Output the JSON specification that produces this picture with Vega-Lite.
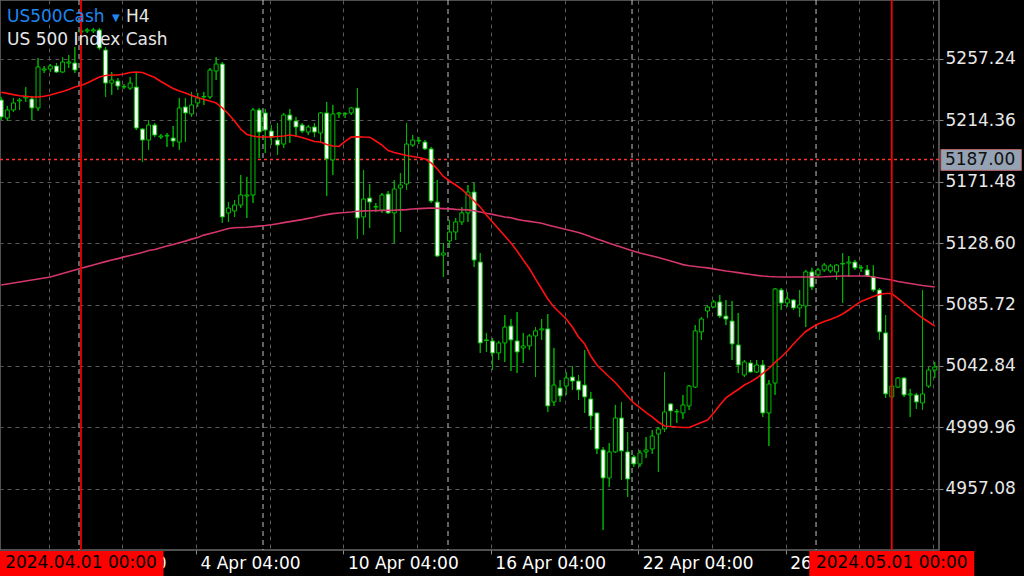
{
"$schema": "https://vega.github.io/schema/vega-lite/v6.json",
"width": 939,
"height": 550,
"autosize": {"type": "none"},
"padding": {"left": 0, "top": 0, "right": 85, "bottom": 26},
"background": "#000000",
"config": {
  "view": {"stroke": "#6a6a6a", "strokeWidth": 1.5, "fill": "#000000"},
  "axis": {"labelFont": "DejaVu Sans"},
  "text": {"font": "DejaVu Sans"}
},
"resolve": {"axis": {"x": "independent", "y": "independent"}},
"datasets": {
  "bars": [
{"i":-13,"o":5228.6,"h":5230.7,"l":5214.6,"c":5216.7,"fast":5234.0,"slow":5099.4},
{"i":-12,"o":5216.0,"h":5224.4,"l":5213.9,"c":5221.6,"fast":5233.2,"slow":5100.1},
{"i":-11,"o":5221.6,"h":5230.0,"l":5220.2,"c":5226.5,"fast":5232.3,"slow":5100.8},
{"i":-10,"o":5227.9,"h":5230.0,"l":5221.6,"c":5228.6,"fast":5231.5,"slow":5101.5},
{"i":-9,"o":5230.0,"h":5237.6,"l":5227.2,"c":5230.7,"fast":5231.2,"slow":5102.2},
{"i":-8,"o":5229.3,"h":5231.4,"l":5214.6,"c":5223.0,"fast":5230.7,"slow":5102.9},
{"i":-7,"o":5223.0,"h":5257.9,"l":5220.9,"c":5251.6,"fast":5230.7,"slow":5103.6},
{"i":-6,"o":5249.5,"h":5252.3,"l":5247.4,"c":5250.2,"fast":5231.2,"slow":5104.3},
{"i":-5,"o":5250.2,"h":5253.7,"l":5248.1,"c":5252.3,"fast":5232.0,"slow":5105.0},
{"i":-4,"o":5252.3,"h":5254.4,"l":5247.4,"c":5248.1,"fast":5233.3,"slow":5106.2},
{"i":-3,"o":5248.1,"h":5258.6,"l":5247.4,"c":5255.1,"fast":5234.5,"slow":5107.4},
{"i":-2,"o":5254.4,"h":5260.0,"l":5250.9,"c":5255.1,"fast":5235.9,"slow":5108.6},
{"i":-1,"o":5254.4,"h":5265.6,"l":5247.4,"c":5249.5,"fast":5237.6,"slow":5109.9},
{"i":0,"o":5276.1,"h":5278.1,"l":5274.0,"c":5276.8,"fast":5238.7,"slow":5111.1},
{"i":1,"o":5276.8,"h":5278.9,"l":5275.4,"c":5277.5,"fast":5240.4,"slow":5112.2},
{"i":2,"o":5276.8,"h":5278.9,"l":5275.4,"c":5277.5,"fast":5242.5,"slow":5113.3},
{"i":3,"o":5277.5,"h":5278.9,"l":5263.5,"c":5264.9,"fast":5244.6,"slow":5114.5},
{"i":4,"o":5263.5,"h":5265.6,"l":5230.7,"c":5240.4,"fast":5245.7,"slow":5115.7},
{"i":5,"o":5240.4,"h":5248.1,"l":5232.1,"c":5242.5,"fast":5246.0,"slow":5116.8},
{"i":6,"o":5241.8,"h":5243.9,"l":5235.6,"c":5238.3,"fast":5246.0,"slow":5117.8},
{"i":7,"o":5237.6,"h":5239.7,"l":5236.3,"c":5238.0,"fast":5246.7,"slow":5119.0},
{"i":8,"o":5236.9,"h":5244.6,"l":5235.6,"c":5240.4,"fast":5247.8,"slow":5120.0},
{"i":9,"o":5237.6,"h":5247.4,"l":5207.6,"c":5209.0,"fast":5248.1,"slow":5121.0},
{"i":10,"o":5208.3,"h":5209.0,"l":5185.3,"c":5200.6,"fast":5247.8,"slow":5122.1},
{"i":11,"o":5200.6,"h":5214.6,"l":5193.7,"c":5211.1,"fast":5246.0,"slow":5123.5},
{"i":12,"o":5211.1,"h":5212.5,"l":5202.7,"c":5204.1,"fast":5244.3,"slow":5124.2},
{"i":13,"o":5202.7,"h":5204.8,"l":5201.3,"c":5203.4,"fast":5241.5,"slow":5125.4},
{"i":14,"o":5203.4,"h":5205.5,"l":5195.8,"c":5203.8,"fast":5239.0,"slow":5126.6},
{"i":15,"o":5202.0,"h":5210.4,"l":5195.8,"c":5199.9,"fast":5236.6,"slow":5127.7},
{"i":16,"o":5199.2,"h":5230.0,"l":5193.7,"c":5223.0,"fast":5234.9,"slow":5128.9},
{"i":17,"o":5223.7,"h":5230.0,"l":5199.2,"c":5219.5,"fast":5233.5,"slow":5130.0},
{"i":18,"o":5218.8,"h":5234.2,"l":5216.7,"c":5225.1,"fast":5231.7,"slow":5131.4},
{"i":19,"o":5226.5,"h":5233.5,"l":5223.7,"c":5230.0,"fast":5230.3,"slow":5132.5},
{"i":20,"o":5230.7,"h":5234.2,"l":5225.1,"c":5231.0,"fast":5228.9,"slow":5134.2},
{"i":21,"o":5230.7,"h":5250.9,"l":5229.3,"c":5249.5,"fast":5227.9,"slow":5135.3},
{"i":22,"o":5248.8,"h":5258.6,"l":5242.5,"c":5253.7,"fast":5226.5,"slow":5136.4},
{"i":23,"o":5253.7,"h":5255.1,"l":5142.7,"c":5146.9,"fast":5223.0,"slow":5137.6},
{"i":24,"o":5149.7,"h":5157.3,"l":5143.4,"c":5153.1,"fast":5218.8,"slow":5138.8},
{"i":25,"o":5151.1,"h":5158.7,"l":5146.9,"c":5155.2,"fast":5213.9,"slow":5139.3},
{"i":26,"o":5155.2,"h":5176.2,"l":5153.1,"c":5162.2,"fast":5208.3,"slow":5139.5},
{"i":27,"o":5161.5,"h":5174.8,"l":5146.2,"c":5162.2,"fast":5204.5,"slow":5139.7},
{"i":28,"o":5162.2,"h":5223.0,"l":5156.6,"c":5221.6,"fast":5203.4,"slow":5140.1},
{"i":29,"o":5221.6,"h":5223.0,"l":5188.1,"c":5206.2,"fast":5202.7,"slow":5140.5},
{"i":30,"o":5219.5,"h":5222.3,"l":5191.6,"c":5207.6,"fast":5202.7,"slow":5140.9},
{"i":31,"o":5206.9,"h":5211.1,"l":5197.1,"c":5202.7,"fast":5202.7,"slow":5141.4},
{"i":32,"o":5200.6,"h":5212.5,"l":5190.2,"c":5197.1,"fast":5203.1,"slow":5142.2},
{"i":33,"o":5197.8,"h":5219.5,"l":5195.1,"c":5218.1,"fast":5203.4,"slow":5142.9},
{"i":34,"o":5218.1,"h":5222.3,"l":5198.5,"c":5214.6,"fast":5204.1,"slow":5143.6},
{"i":35,"o":5213.9,"h":5216.7,"l":5202.7,"c":5209.7,"fast":5203.4,"slow":5144.3},
{"i":36,"o":5211.1,"h":5212.5,"l":5205.5,"c":5206.9,"fast":5202.4,"slow":5145.0},
{"i":37,"o":5206.2,"h":5211.1,"l":5204.1,"c":5209.7,"fast":5201.0,"slow":5145.9},
{"i":38,"o":5209.7,"h":5212.5,"l":5202.7,"c":5206.2,"fast":5199.6,"slow":5146.7},
{"i":39,"o":5205.5,"h":5220.2,"l":5198.5,"c":5219.5,"fast":5199.2,"slow":5147.7},
{"i":40,"o":5219.5,"h":5227.2,"l":5161.5,"c":5187.4,"fast":5197.5,"slow":5148.5},
{"i":41,"o":5186.7,"h":5225.1,"l":5176.2,"c":5218.8,"fast":5196.4,"slow":5149.2},
{"i":42,"o":5218.8,"h":5220.2,"l":5216.0,"c":5219.5,"fast":5196.1,"slow":5149.7},
{"i":43,"o":5218.8,"h":5220.2,"l":5216.0,"c":5219.1,"fast":5199.6,"slow":5150.0},
{"i":44,"o":5219.5,"h":5223.7,"l":5218.1,"c":5223.0,"fast":5202.7,"slow":5150.4},
{"i":45,"o":5223.0,"h":5236.9,"l":5131.5,"c":5146.2,"fast":5202.9,"slow":5150.9},
{"i":46,"o":5146.9,"h":5179.7,"l":5134.3,"c":5159.4,"fast":5202.7,"slow":5151.1},
{"i":47,"o":5160.1,"h":5169.9,"l":5139.2,"c":5157.3,"fast":5202.6,"slow":5151.2},
{"i":48,"o":5153.8,"h":5156.6,"l":5150.4,"c":5154.2,"fast":5199.9,"slow":5151.3},
{"i":49,"o":5151.8,"h":5163.6,"l":5149.7,"c":5162.2,"fast":5197.1,"slow":5151.4},
{"i":50,"o":5162.9,"h":5165.0,"l":5149.0,"c":5149.7,"fast":5193.3,"slow":5151.5},
{"i":51,"o":5149.7,"h":5172.7,"l":5128.7,"c":5166.4,"fast":5191.9,"slow":5151.6},
{"i":52,"o":5167.1,"h":5177.6,"l":5136.4,"c":5169.2,"fast":5190.9,"slow":5151.8},
{"i":53,"o":5169.9,"h":5212.5,"l":5165.7,"c":5197.8,"fast":5189.8,"slow":5152.0},
{"i":54,"o":5197.1,"h":5204.1,"l":5195.8,"c":5200.6,"fast":5189.1,"slow":5152.4},
{"i":55,"o":5199.9,"h":5202.7,"l":5197.8,"c":5200.3,"fast":5188.4,"slow":5152.7},
{"i":56,"o":5199.2,"h":5200.6,"l":5193.7,"c":5194.4,"fast":5187.4,"slow":5152.9},
{"i":57,"o":5194.4,"h":5195.8,"l":5156.6,"c":5158.0,"fast":5184.6,"slow":5153.1},
{"i":58,"o":5157.3,"h":5172.7,"l":5118.9,"c":5119.6,"fast":5180.4,"slow":5152.9},
{"i":59,"o":5120.3,"h":5128.7,"l":5105.0,"c":5121.7,"fast":5175.2,"slow":5152.7},
{"i":60,"o":5130.1,"h":5144.8,"l":5125.2,"c":5136.4,"fast":5172.0,"slow":5152.5},
{"i":61,"o":5136.4,"h":5146.2,"l":5130.8,"c":5143.4,"fast":5169.2,"slow":5152.2},
{"i":62,"o":5143.4,"h":5153.8,"l":5141.3,"c":5149.7,"fast":5166.1,"slow":5152.0},
{"i":63,"o":5149.7,"h":5169.2,"l":5143.4,"c":5164.3,"fast":5162.2,"slow":5151.8},
{"i":64,"o":5164.3,"h":5170.6,"l":5111.9,"c":5116.8,"fast":5158.0,"slow":5151.2},
{"i":65,"o":5115.4,"h":5121.7,"l":5051.9,"c":5058.9,"fast":5153.8,"slow":5150.4},
{"i":66,"o":5061.0,"h":5065.9,"l":5052.6,"c":5060.6,"fast":5148.3,"slow":5149.5},
{"i":67,"o":5060.3,"h":5062.4,"l":5040.0,"c":5051.9,"fast":5143.4,"slow":5148.7},
{"i":68,"o":5051.9,"h":5060.3,"l":5047.0,"c":5058.9,"fast":5138.5,"slow":5147.7},
{"i":69,"o":5058.9,"h":5078.4,"l":5045.6,"c":5070.0,"fast":5133.6,"slow":5146.9},
{"i":70,"o":5070.7,"h":5075.6,"l":5039.3,"c":5061.0,"fast":5128.7,"slow":5146.3},
{"i":71,"o":5060.3,"h":5080.5,"l":5037.9,"c":5052.6,"fast":5123.1,"slow":5145.2},
{"i":72,"o":5055.4,"h":5065.9,"l":5044.9,"c":5056.8,"fast":5116.8,"slow":5144.4},
{"i":73,"o":5056.8,"h":5065.2,"l":5054.0,"c":5063.8,"fast":5110.9,"slow":5143.8},
{"i":74,"o":5063.8,"h":5070.0,"l":5035.1,"c":5067.3,"fast":5103.6,"slow":5143.2},
{"i":75,"o":5068.0,"h":5075.6,"l":5061.0,"c":5068.7,"fast":5096.6,"slow":5142.5},
{"i":76,"o":5068.7,"h":5079.1,"l":5010.7,"c":5014.9,"fast":5089.6,"slow":5141.3},
{"i":77,"o":5017.7,"h":5055.4,"l":5014.9,"c":5029.5,"fast":5084.0,"slow":5140.2},
{"i":78,"o":5027.4,"h":5033.0,"l":5017.7,"c":5021.9,"fast":5079.8,"slow":5139.2},
{"i":79,"o":5028.8,"h":5038.6,"l":5022.6,"c":5034.4,"fast":5075.6,"slow":5138.1},
{"i":80,"o":5035.1,"h":5042.8,"l":5026.1,"c":5032.3,"fast":5070.0,"slow":5137.1},
{"i":81,"o":5032.3,"h":5036.5,"l":5019.1,"c":5026.1,"fast":5063.1,"slow":5136.1},
{"i":82,"o":5029.5,"h":5054.0,"l":5010.0,"c":5021.2,"fast":5058.2,"slow":5134.7},
{"i":83,"o":5019.8,"h":5024.7,"l":4998.1,"c":5007.9,"fast":5049.8,"slow":5133.0},
{"i":84,"o":5010.0,"h":5010.0,"l":4981.4,"c":4984.9,"fast":5043.5,"slow":5131.5},
{"i":85,"o":4984.2,"h":4986.2,"l":4928.3,"c":4964.6,"fast":5039.3,"slow":5130.1},
{"i":86,"o":4964.6,"h":4989.0,"l":4958.3,"c":4982.8,"fast":5035.1,"slow":5128.6},
{"i":87,"o":4982.8,"h":5015.6,"l":4982.1,"c":5006.5,"fast":5031.3,"slow":5127.1},
{"i":88,"o":5006.5,"h":5017.7,"l":4963.2,"c":4983.5,"fast":5026.4,"slow":5125.7},
{"i":89,"o":4982.8,"h":4996.7,"l":4951.3,"c":4963.9,"fast":5021.5,"slow":5124.4},
{"i":90,"o":4979.3,"h":4980.7,"l":4972.3,"c":4974.4,"fast":5017.0,"slow":5123.0},
{"i":91,"o":4974.4,"h":4984.2,"l":4972.3,"c":4982.1,"fast":5013.8,"slow":5121.7},
{"i":92,"o":4982.8,"h":4993.2,"l":4978.6,"c":4984.2,"fast":5010.3,"slow":5120.7},
{"i":93,"o":4984.9,"h":4998.1,"l":4981.4,"c":4993.9,"fast":5007.2,"slow":5119.6},
{"i":94,"o":4995.3,"h":5000.2,"l":4968.8,"c":4998.8,"fast":5003.7,"slow":5118.6},
{"i":95,"o":4998.8,"h":5038.6,"l":4996.7,"c":5010.7,"fast":5000.9,"slow":5117.4},
{"i":96,"o":5016.3,"h":5017.0,"l":5000.2,"c":5011.4,"fast":5000.6,"slow":5116.1},
{"i":97,"o":5010.7,"h":5012.8,"l":5003.0,"c":5011.0,"fast":5000.2,"slow":5114.9},
{"i":98,"o":5010.0,"h":5022.6,"l":5005.8,"c":5015.6,"fast":4999.9,"slow":5113.6},
{"i":99,"o":5014.9,"h":5029.5,"l":5012.1,"c":5028.8,"fast":4999.9,"slow":5112.8},
{"i":100,"o":5028.1,"h":5071.4,"l":5027.4,"c":5067.3,"fast":5001.6,"slow":5112.3},
{"i":101,"o":5066.6,"h":5077.0,"l":5061.0,"c":5075.6,"fast":5003.4,"slow":5111.8},
{"i":102,"o":5081.2,"h":5085.4,"l":5076.3,"c":5084.0,"fast":5005.1,"slow":5111.3},
{"i":103,"o":5084.0,"h":5088.9,"l":5083.3,"c":5087.5,"fast":5010.0,"slow":5110.6},
{"i":104,"o":5087.5,"h":5092.4,"l":5076.3,"c":5077.7,"fast":5015.6,"slow":5109.9},
{"i":105,"o":5077.7,"h":5088.9,"l":5071.4,"c":5075.6,"fast":5020.5,"slow":5109.2},
{"i":106,"o":5074.2,"h":5088.2,"l":5047.0,"c":5058.2,"fast":5023.6,"slow":5108.6},
{"i":107,"o":5057.5,"h":5079.8,"l":5037.9,"c":5043.5,"fast":5026.4,"slow":5108.0},
{"i":108,"o":5036.5,"h":5047.0,"l":5035.1,"c":5045.6,"fast":5029.5,"slow":5107.3},
{"i":109,"o":5044.9,"h":5047.0,"l":5037.9,"c":5038.6,"fast":5031.7,"slow":5106.7},
{"i":110,"o":5038.6,"h":5047.0,"l":5037.9,"c":5043.5,"fast":5034.4,"slow":5106.1},
{"i":111,"o":5043.5,"h":5047.0,"l":5007.2,"c":5010.0,"fast":5037.6,"slow":5105.6},
{"i":112,"o":5010.0,"h":5033.0,"l":4986.9,"c":5030.2,"fast":5041.1,"slow":5105.3},
{"i":113,"o":5030.9,"h":5097.3,"l":5022.6,"c":5096.6,"fast":5045.3,"slow":5105.1},
{"i":114,"o":5095.9,"h":5097.3,"l":5081.9,"c":5086.8,"fast":5049.1,"slow":5105.0},
{"i":115,"o":5086.8,"h":5094.5,"l":5084.0,"c":5089.6,"fast":5053.3,"slow":5105.0},
{"i":116,"o":5088.9,"h":5089.6,"l":5081.9,"c":5083.3,"fast":5058.2,"slow":5105.0},
{"i":117,"o":5083.3,"h":5095.9,"l":5077.0,"c":5085.4,"fast":5062.7,"slow":5105.0},
{"i":118,"o":5084.7,"h":5109.9,"l":5070.0,"c":5108.5,"fast":5066.9,"slow":5105.0},
{"i":119,"o":5108.5,"h":5111.3,"l":5095.9,"c":5098.0,"fast":5069.7,"slow":5105.0},
{"i":120,"o":5106.4,"h":5111.3,"l":5105.0,"c":5109.9,"fast":5072.1,"slow":5105.0},
{"i":121,"o":5109.9,"h":5114.7,"l":5108.5,"c":5113.3,"fast":5073.9,"slow":5105.1},
{"i":122,"o":5109.2,"h":5114.0,"l":5107.8,"c":5112.6,"fast":5075.3,"slow":5105.3},
{"i":123,"o":5108.5,"h":5114.0,"l":5102.9,"c":5113.3,"fast":5077.0,"slow":5105.5},
{"i":124,"o":5114.0,"h":5121.7,"l":5086.8,"c":5114.4,"fast":5079.1,"slow":5105.7},
{"i":125,"o":5114.7,"h":5119.6,"l":5105.0,"c":5115.4,"fast":5081.9,"slow":5105.7},
{"i":126,"o":5115.4,"h":5116.8,"l":5109.9,"c":5111.3,"fast":5085.1,"slow":5105.7},
{"i":127,"o":5111.3,"h":5113.3,"l":5108.5,"c":5111.6,"fast":5087.9,"slow":5105.7},
{"i":128,"o":5109.9,"h":5113.3,"l":5105.0,"c":5105.7,"fast":5089.6,"slow":5105.7},
{"i":129,"o":5105.0,"h":5113.3,"l":5094.5,"c":5095.9,"fast":5091.4,"slow":5105.0},
{"i":130,"o":5095.9,"h":5097.3,"l":5061.0,"c":5066.6,"fast":5092.8,"slow":5104.3},
{"i":131,"o":5065.9,"h":5078.4,"l":5020.5,"c":5023.3,"fast":5093.4,"slow":5103.6},
{"i":132,"o":5021.2,"h":5030.2,"l":5019.8,"c":5028.8,"fast":5093.4,"slow":5102.9},
{"i":133,"o":5028.1,"h":5035.1,"l":5027.4,"c":5034.4,"fast":5090.0,"slow":5101.8},
{"i":134,"o":5034.4,"h":5035.1,"l":5021.2,"c":5022.6,"fast":5086.5,"slow":5101.1},
{"i":135,"o":5022.6,"h":5026.8,"l":5007.2,"c":5023.3,"fast":5083.0,"slow":5100.4},
{"i":136,"o":5022.6,"h":5024.0,"l":5012.8,"c":5017.7,"fast":5079.5,"slow":5099.7},
{"i":137,"o":5017.0,"h":5095.9,"l":5012.1,"c":5023.3,"fast":5076.3,"slow":5099.0},
{"i":138,"o":5028.8,"h":5042.1,"l":5027.4,"c":5040.0,"fast":5073.5,"slow":5098.5},
{"i":139,"o":5040.0,"h":5045.6,"l":5034.4,"c":5042.1,"fast":5070.7,"slow":5098.0}
  ],
  "events": [{"i": 0, "label": "2024.04.01 00:00"}, {"i": 132, "label": "2024.05.01 00:00"}],
  "weeks": [{"i": -0.33}, {"i": 29.63}, {"i": 59.75}, {"i": 89.71}, {"i": 119.67}],
  "level": [{"price": 5187.0}],
  "header": [{"symbol": "US500Cash", "period": "H4", "name": "US 500 Index Cash"}]
},
"layer": [
  {
    "data": {"name": "bars"},
    "mark": {"type": "rule", "color": "#00b400", "strokeWidth": 1},
    "encoding": {
      "x": {"field": "i", "type": "quantitative",
        "scale": {"domain": [-13.19, 139.69], "nice": false, "zero": false, "padding": 0},
        "axis": {
          "orient": "bottom",
          "values": [-5.28, 6.72, 18.72, 30.72, 42.72, 54.72, 66.72, 78.72, 90.72, 102.72, 114.72, 126.72, 138.72],
          "labelExpr": "round(datum.value) == -5 ? '28 Mar 04:00' : round(datum.value) == 19 ? '4 Apr 04:00' : round(datum.value) == 43 ? '10 Apr 04:00' : round(datum.value) == 67 ? '16 Apr 04:00' : round(datum.value) == 91 ? '22 Apr 04:00' : round(datum.value) == 115 ? '26 Apr 04:00' : ''",
          "grid": true, "gridColor": "#595959", "gridDash": [4, 4], "gridWidth": 1,
          "domain": false, "ticks": true, "tickColor": "#8a8a8a", "tickSize": 4,
          "tickOpacity": {"condition": {"test": "abs((datum.value + 5.28) % 24) < 0.5", "value": 1}, "value": 0},
          "labelColor": "#ffffff", "labelFontSize": 17, "labelAlign": "left", "labelBaseline": "top",
          "labelPadding": 1, "labelOffset": 4, "labelOverlap": false, "labelBound": false, "labelFlush": false,
          "title": null
        }
      },
      "y": {"field": "l", "type": "quantitative",
        "scale": {"domain": [4914.3, 5298.4], "nice": false, "zero": false, "padding": 0},
        "axis": {
          "orient": "right",
          "values": [4957.08, 4999.96, 5042.84, 5085.72, 5128.6, 5171.48, 5214.36, 5257.24],
          "format": ".2f",
          "grid": true, "gridColor": "#595959", "gridDash": [4, 4], "gridWidth": 1,
          "domain": false, "tickColor": "#8a8a8a", "tickSize": 4,
          "labelColor": "#e8e8e8", "labelFontSize": 17, "labelPadding": 2,
          "labelOverlap": false, "labelBound": false, "labelFlush": false,
          "title": null
        }
      },
      "y2": {"field": "h"}
    }
  },
  {
    "data": {"name": "weeks"},
    "mark": {"type": "rule", "color": "#c4c4c4", "strokeWidth": 1, "strokeDash": [5, 4]},
    "encoding": {
      "x": {"field": "i", "type": "quantitative", "axis": null, "scale": {"domain": [-13.19, 139.69], "nice": false, "zero": false, "padding": 0}}
    }
  },
  {
    "data": {"name": "level"},
    "mark": {"type": "rule", "color": "#ff3030", "strokeWidth": 1.5, "strokeDash": [3, 3]},
    "encoding": {
      "y": {"field": "price", "type": "quantitative", "axis": null, "scale": {"domain": [4914.3, 5298.4], "nice": false, "zero": false, "padding": 0}}
    }
  },
  {
    "data": {"name": "bars"},
    "mark": {"type": "rule", "color": "#00b400", "strokeWidth": 1},
    "encoding": {
      "x": {"field": "i", "type": "quantitative", "axis": null, "scale": {"domain": [-13.19, 139.69], "nice": false, "zero": false, "padding": 0}},
      "y": {"field": "l", "type": "quantitative", "axis": null, "scale": {"domain": [4914.3, 5298.4], "nice": false, "zero": false, "padding": 0}},
      "y2": {"field": "h"}
    }
  },
  {
    "data": {"name": "bars"},
    "mark": {"type": "bar", "size": 4, "stroke": "#00c000", "strokeWidth": 1},
    "encoding": {
      "x": {"field": "i", "type": "quantitative", "axis": null, "scale": {"domain": [-13.19, 139.69], "nice": false, "zero": false, "padding": 0}},
      "y": {"field": "o", "type": "quantitative", "axis": null, "scale": {"domain": [4914.3, 5298.4], "nice": false, "zero": false, "padding": 0}},
      "y2": {"field": "c"},
      "fill": {"condition": {"test": "datum.c < datum.o", "value": "#ffffff"}, "value": "#000000"}
    }
  },
  {
    "data": {"name": "bars"},
    "mark": {"type": "line", "color": "#d4356c", "strokeWidth": 1.6},
    "encoding": {
      "x": {"field": "i", "type": "quantitative", "axis": null, "scale": {"domain": [-13.19, 139.69], "nice": false, "zero": false, "padding": 0}},
      "y": {"field": "slow", "type": "quantitative", "axis": null, "scale": {"domain": [4914.3, 5298.4], "nice": false, "zero": false, "padding": 0}}
    }
  },
  {
    "data": {"name": "bars"},
    "mark": {"type": "line", "color": "#ff1010", "strokeWidth": 1.6},
    "encoding": {
      "x": {"field": "i", "type": "quantitative", "axis": null, "scale": {"domain": [-13.19, 139.69], "nice": false, "zero": false, "padding": 0}},
      "y": {"field": "fast", "type": "quantitative", "axis": null, "scale": {"domain": [4914.3, 5298.4], "nice": false, "zero": false, "padding": 0}}
    }
  },
  {
    "data": {"name": "events"},
    "mark": {"type": "rule", "color": "#f00000", "strokeWidth": 1.8},
    "encoding": {
      "x": {"field": "i", "type": "quantitative", "axis": null, "scale": {"domain": [-13.19, 139.69], "nice": false, "zero": false, "padding": 0}}
    }
  },
  {
    "data": {"name": "events"},
    "mark": {"type": "bar", "width": 165, "color": "#ff0000", "clip": false},
    "encoding": {
      "x": {"field": "i", "type": "quantitative", "axis": null, "scale": {"domain": [-13.19, 139.69], "nice": false, "zero": false, "padding": 0}},
      "y": {"datum": 4913.6, "type": "quantitative", "axis": null, "scale": {"domain": [4914.3, 5298.4], "nice": false, "zero": false, "padding": 0}},
      "y2": {"datum": 4895.5}
    }
  },
  {
    "data": {"name": "events"},
    "mark": {"type": "text", "color": "#000000", "fontSize": 17, "align": "center", "baseline": "middle"},
    "encoding": {
      "x": {"field": "i", "type": "quantitative", "axis": null, "scale": {"domain": [-13.19, 139.69], "nice": false, "zero": false, "padding": 0}},
      "y": {"datum": 4904.9, "type": "quantitative", "axis": null, "scale": {"domain": [4914.3, 5298.4], "nice": false, "zero": false, "padding": 0}},
      "text": {"field": "label"}
    }
  },
  {
    "data": {"name": "level"},
    "mark": {"type": "rect", "color": "#95a2b3", "stroke": "#b46060", "strokeWidth": 1, "clip": false},
    "encoding": {
      "x": {"datum": 140.0, "type": "quantitative", "axis": null, "scale": {"domain": [-13.19, 139.69], "nice": false, "zero": false, "padding": 0}},
      "x2": {"datum": 153.1},
      "y": {"datum": 5194.0, "type": "quantitative", "axis": null, "scale": {"domain": [4914.3, 5298.4], "nice": false, "zero": false, "padding": 0}},
      "y2": {"datum": 5179.4}
    }
  },
  {
    "data": {"name": "level"},
    "mark": {"type": "text", "color": "#101010", "fontSize": 17, "align": "left", "baseline": "middle"},
    "encoding": {
      "x": {"datum": 140.65, "type": "quantitative", "axis": null, "scale": {"domain": [-13.19, 139.69], "nice": false, "zero": false, "padding": 0}},
      "y": {"field": "price", "type": "quantitative", "axis": null, "scale": {"domain": [4914.3, 5298.4], "nice": false, "zero": false, "padding": 0}},
      "text": {"field": "price", "format": ".2f"}
    }
  },
  {
    "data": {"name": "header"},
    "mark": {"type": "text", "color": "#1f86f0", "fontSize": 17, "align": "left", "baseline": "middle"},
    "encoding": {
      "x": {"datum": -12.05, "type": "quantitative", "axis": null, "scale": {"domain": [-13.19, 139.69], "nice": false, "zero": false, "padding": 0}},
      "y": {"datum": 5286.5, "type": "quantitative", "axis": null, "scale": {"domain": [4914.3, 5298.4], "nice": false, "zero": false, "padding": 0}},
      "text": {"field": "symbol"}
    }
  },
  {
    "data": {"name": "header"},
    "mark": {"type": "text", "color": "#1f86f0", "fontSize": 10, "align": "left", "baseline": "middle", "text": "▼"},
    "encoding": {
      "x": {"datum": 5.05, "type": "quantitative", "axis": null, "scale": {"domain": [-13.19, 139.69], "nice": false, "zero": false, "padding": 0}},
      "y": {"datum": 5286.0, "type": "quantitative", "axis": null, "scale": {"domain": [4914.3, 5298.4], "nice": false, "zero": false, "padding": 0}}
    }
  },
  {
    "data": {"name": "header"},
    "mark": {"type": "text", "color": "#e6e6e6", "fontSize": 17, "align": "left", "baseline": "middle"},
    "encoding": {
      "x": {"datum": 7.33, "type": "quantitative", "axis": null, "scale": {"domain": [-13.19, 139.69], "nice": false, "zero": false, "padding": 0}},
      "y": {"datum": 5286.5, "type": "quantitative", "axis": null, "scale": {"domain": [4914.3, 5298.4], "nice": false, "zero": false, "padding": 0}},
      "text": {"field": "period"}
    }
  },
  {
    "data": {"name": "header"},
    "mark": {"type": "text", "color": "#e6e6e6", "fontSize": 17, "align": "left", "baseline": "middle"},
    "encoding": {
      "x": {"datum": -12.05, "type": "quantitative", "axis": null, "scale": {"domain": [-13.19, 139.69], "nice": false, "zero": false, "padding": 0}},
      "y": {"datum": 5270.5, "type": "quantitative", "axis": null, "scale": {"domain": [4914.3, 5298.4], "nice": false, "zero": false, "padding": 0}},
      "text": {"field": "name"}
    }
  }
]
}
